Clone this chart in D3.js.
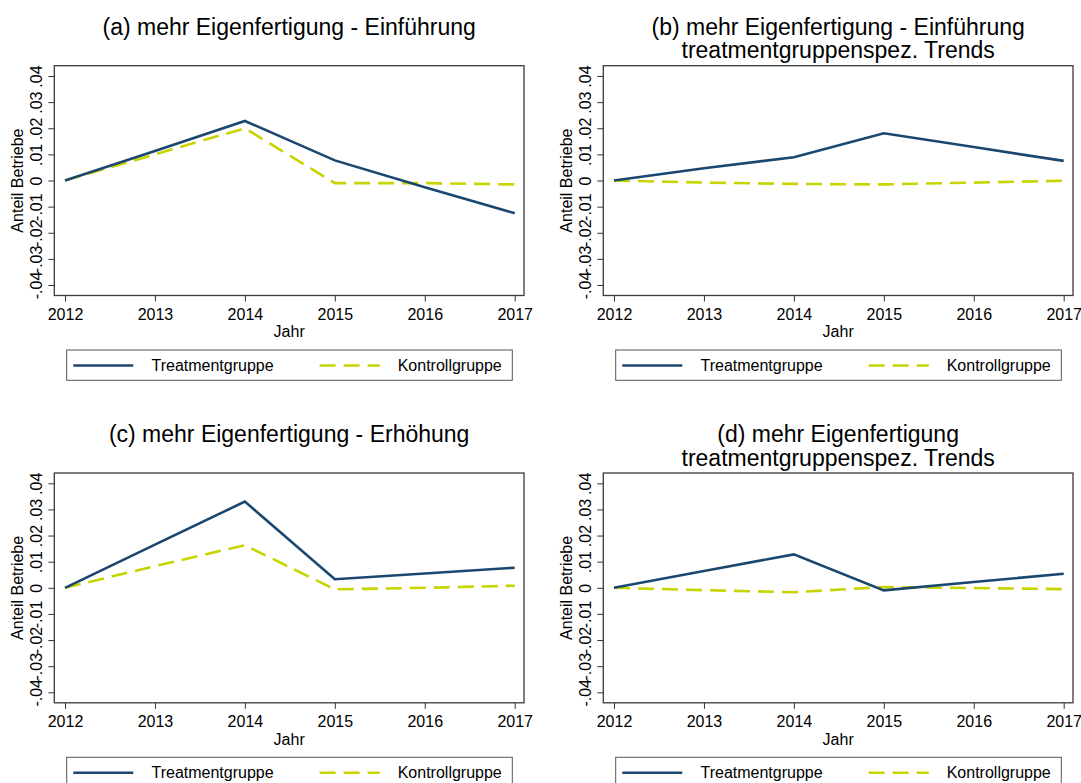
<!DOCTYPE html>
<html lang="de">
<head>
    <meta charset="UTF-8">
    <title>mehr Eigenfertigung</title>
    <script src="https://d3js.org/d3.v7.min.js"></script>
    <style>
        body { margin: 0; background: #fff; }
        text { font-family: "Liberation Sans", Arial, sans-serif; fill: #000; }
    </style>
</head>
<body>
<script>
    const years = [2012, 2013, 2014, 2015, 2016, 2017];
    const yTicks = [-0.04, -0.03, -0.02, -0.01, 0, 0.01, 0.02, 0.03, 0.04];
    const legendLabels = ["Treatmentgruppe", "Kontrollgruppe"];

    const titleA = ["(a) mehr Eigenfertigung - Einführung"];
    const titleB = ["(b) mehr Eigenfertigung - Einführung", "treatmentgruppenspez. Trends"];
    const titleC = ["(c) mehr Eigenfertigung - Erhöhung"];
    const titleD = ["(d) mehr Eigenfertigung", "treatmentgruppenspez. Trends"];

    const treatA = [0, 0.0113, 0.0228, 0.0077, -0.0026, -0.0125];
    const controlA = [0, 0.0100, 0.0200, -0.0010, -0.0010, -0.0015];
    const treatB = [0, 0.0047, 0.0089, 0.0181, 0.0128, 0.0075];
    const controlB = [0, -0.0008, -0.0013, -0.0015, -0.0008, -0.0001];
    const treatC = [0, 0.0165, 0.0330, 0.0033, 0.0055, 0.0077];
    const controlC = [0, 0.0083, 0.0163, -0.0006, 0.0000, 0.0008];
    const treatD = [0, 0.0064, 0.0128, -0.0010, 0.0022, 0.0054];
    const controlD = [0, -0.0009, -0.0017, 0.0003, -0.0001, -0.0005];

    const WIDTH = 1081, HEIGHT = 783;
    const NAVY = "#1a476f", LIME = "#c8d400";
    const PW = 469.7, PH = 229.8;

    const panels = [
        {title: titleA, treat: treatA, control: controlA, x0: 54.3, y0: 65.7},
        {title: titleB, treat: treatB, control: controlB, x0: 603.3, y0: 65.7},
        {title: titleC, treat: treatC, control: controlC, x0: 54.3, y0: 473},
        {title: titleD, treat: treatD, control: controlD, x0: 603.3, y0: 473}
    ];

    let svg = d3.select("body").append("svg").attr("width", WIDTH).attr("height", HEIGHT);
    svg.append("rect").attr("width", WIDTH).attr("height", HEIGHT).style("fill", "white");

    function drawPanel(p) {
        let g = svg.append("g").attr("transform", "translate(" + p.x0 + "," + p.y0 + ")");
        let x = d3.scaleLinear().domain([2012, 2017]).range([10.7, PW - 9.3]);
        let y = d3.scaleLinear().domain([-0.04, 0.04]).range([219.3, 10.3]);

        // titles
        p.title.forEach((t, i) => {
            g.append("text").text(t)
                .attr("x", PW / 2).attr("y", -30.7 + i * 23.3)
                .attr("text-anchor", "middle").style("font-size", "23px");
        });

        // x axis
        let xAxis = g.append("g").attr("transform", "translate(0," + PH + ")")
            .call(d3.axisBottom(x).tickValues(years).tickFormat(d3.format("d")).tickSize(6).tickSizeOuter(0));
        xAxis.select(".domain").remove();
        xAxis.selectAll("line").attr("stroke", "#333");
        xAxis.selectAll("text").attr("y", 0).attr("dy", null)
            .attr("transform", "translate(0,24)")
            .style("font-size", "16px").style("font-family", "Liberation Sans, Arial, sans-serif");

        // y axis, stata style labels: .04, 0, -.01
        let fmt = v => v === 0 ? "0" : (v < 0 ? "-" : "") + d3.format(".2f")(Math.abs(v)).replace("0.", ".");
        let yAxis = g.append("g")
            .call(d3.axisLeft(y).tickValues(yTicks).tickFormat(fmt).tickSize(6).tickSizeOuter(0));
        yAxis.select(".domain").remove();
        yAxis.selectAll("line").attr("stroke", "#333");
        yAxis.selectAll("text")
            .attr("x", null).attr("dy", null)
            .attr("transform", "translate(-12.6,0) rotate(-90)")
            .attr("text-anchor", "middle")
            .style("font-size", "16px").style("font-family", "Liberation Sans, Arial, sans-serif");

        // frame
        g.append("rect").attr("width", PW).attr("height", PH)
            .style("fill", "none").style("stroke", "#3a3a3a").style("stroke-width", 1.3);

        // axis titles
        g.append("text").text("Jahr")
            .attr("x", PW / 2).attr("y", 271.8)
            .attr("text-anchor", "middle").style("font-size", "16px");
        g.append("text").text("Anteil Betriebe")
            .attr("transform", "translate(-31," + (PH / 2) + ") rotate(-90)")
            .attr("text-anchor", "middle").style("font-size", "16px");

        // lines
        let line = d3.line().x((d, i) => x(years[i])).y(d => y(d));
        g.append("path").datum(p.control).attr("d", line)
            .style("fill", "none").style("stroke", LIME).style("stroke-width", 2.6)
            .style("stroke-dasharray", "16,8");
        g.append("path").datum(p.treat).attr("d", line)
            .style("fill", "none").style("stroke", NAVY).style("stroke-width", 2.6);

        // legend
        let lg = g.append("g").attr("transform", "translate(12.4," + (PH + 54.5) + ")");
        lg.append("rect").attr("width", 445.6).attr("height", 30.3)
            .style("fill", "white").style("stroke", "#555").style("stroke-width", 1);
        lg.append("line").attr("x1", 6.6).attr("x2", 66.6).attr("y1", 15.5).attr("y2", 15.5)
            .style("stroke", NAVY).style("stroke-width", 2.6);
        lg.append("text").text(legendLabels[0]).attr("x", 84.8).attr("y", 21)
            .style("font-size", "16px");
        lg.append("line").attr("x1", 252.9).attr("x2", 313.1).attr("y1", 15.5).attr("y2", 15.5)
            .style("stroke", LIME).style("stroke-width", 2.6).style("stroke-dasharray", "16,8");
        lg.append("text").text(legendLabels[1]).attr("x", 331).attr("y", 21)
            .style("font-size", "16px");
    }

    panels.forEach(drawPanel);
</script>
</body>
</html>
